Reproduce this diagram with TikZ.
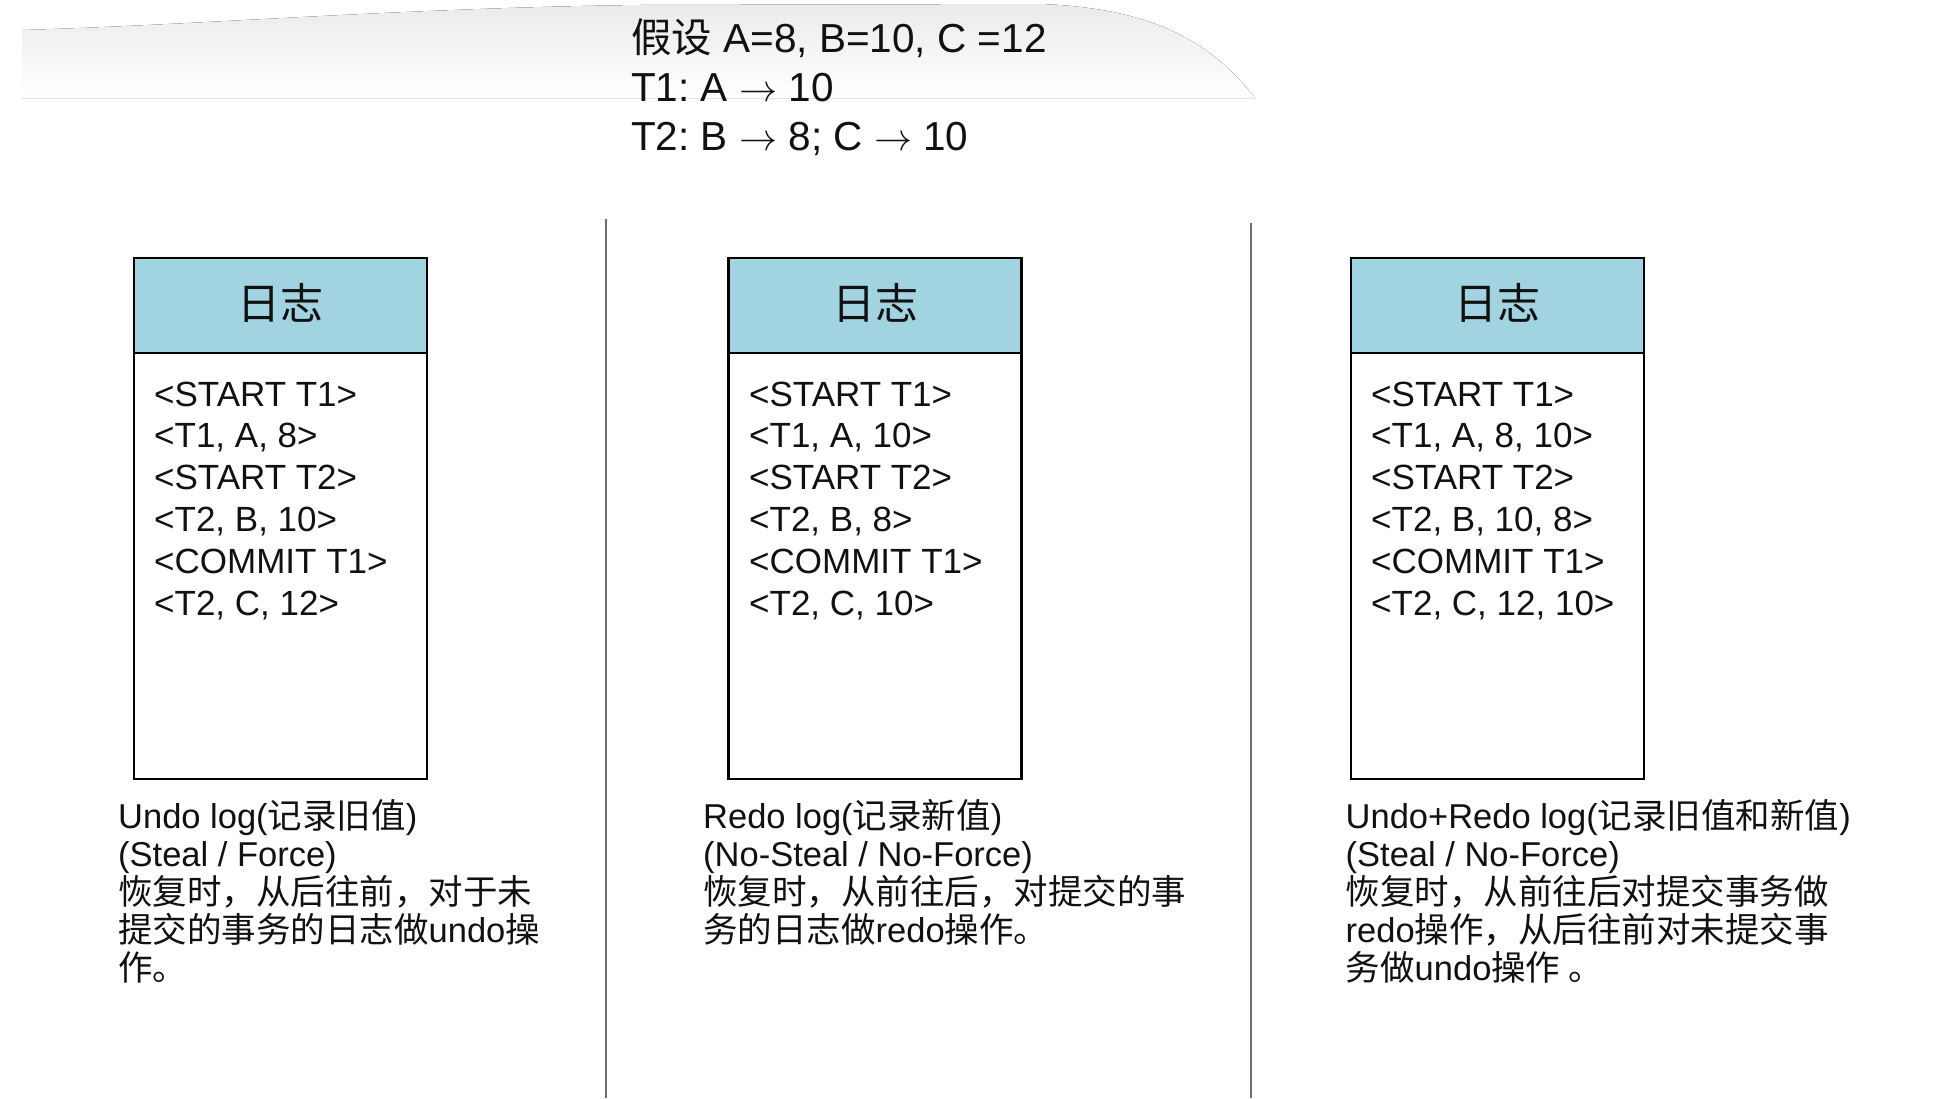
\documentclass[tikz,border=0pt]{standalone}
\usepackage{graphicx}
\usepackage{fontspec}
\setmainfont{Liberation Sans}
\newfontfamily\cjk{Noto Sans CJK SC}
\definecolor{hdr}{HTML}{A1D3E0}
\definecolor{vline}{HTML}{6E6E6E}
\definecolor{ink}{HTML}{111111}
\newcommand{\myarr}{{\fontsize{10}{12}\selectfont\scalebox{3.8}{$\rightarrow$}}}
\frenchspacing
\begin{document}
\begin{tikzpicture}[x=1pt,y=-1pt,
  boxline/.style={draw=black,line width=2.6pt},
  sepline/.style={draw=vline,line width=2pt},
  toptxt/.style={anchor=base west,inner sep=0pt,text=ink,font=\fontsize{40.5}{48}\selectfont},
  hdrtxt/.style={anchor=base,inner sep=0pt,text=ink,font=\fontsize{43}{50}\cjk},
  logtxt/.style={anchor=base west,inner sep=0pt,text=ink,font=\fontsize{35}{42}\selectfont},
  notetxt/.style={anchor=base west,inner sep=0pt,text=ink,font=\fontsize{34.5}{38}\selectfont}]
\useasboundingbox (0,0) rectangle (1953,1098);
\fill[white] (0,0) rectangle (1953,1098);
% faint shading at top
\fill[top color=black!8,bottom color=white] (22,98) -- (22,30) .. controls (200,25) and (400,8) .. (640,5) -- (1040,4) .. controls (1150,8) and (1210,40) .. (1255,98) -- cycle;
% top text
\node[toptxt] (t1) at (631,52) {{\cjk 假设} A=8, B=10, C =12};
\node[toptxt] (t2) at (631,101) {T1: A \myarr{} 10};
\node[toptxt] (t3) at (631,150) {T2: B \myarr{} 8; C \myarr{} 10};
% separators
\coordinate (s1a) at (605.5,219); \coordinate (s1b) at (605.5,1098);
\coordinate (s2a) at (1251,223); \coordinate (s2b) at (1251,1098);
\draw[sepline] (s1a) -- (s1b);
\draw[sepline] (s2a) -- (s2b);
% boxes
\foreach \xl/\n in {134/1,728.5/2,1351/3}{
  \fill[hdr] (\xl,258) rectangle ++(293,95);
  \draw[boxline] (\xl,258) rectangle ++(293,521);
  \draw[boxline] (\xl,353) -- ++(293,0);
  \node[hdrtxt] (h\n) at (\xl+146.5,319) {日志};
}
% log entries
\foreach \t [count=\i from 0] in {{<START T1>},{<T1, A, 8>},{<START T2>},{<T2, B, 10>},{<COMMIT T1>},{<T2, C, 12>}}
  \node[logtxt] (a\i) at (154,406+41.8*\i) {\t};
\foreach \t [count=\i from 0] in {{<START T1>},{<T1, A, 10>},{<START T2>},{<T2, B, 8>},{<COMMIT T1>},{<T2, C, 10>}}
  \node[logtxt] (b\i) at (749,406+41.8*\i) {\t};
\foreach \t [count=\i from 0] in {{<START T1>},{<T1, A, 8, 10>},{<START T2>},{<T2, B, 10, 8>},{<COMMIT T1>},{<T2, C, 12, 10>}}
  \node[logtxt] (c\i) at (1371,406+41.8*\i) {\t};
% notes
\foreach \t [count=\i from 0] in {{Undo log({\cjk 记录旧值})},{(Steal / Force)},{\cjk 恢复时，从后往前，对于未},{{\cjk 提交的事务的日志做}undo{\cjk 操}},{\cjk 作。}}
  \node[notetxt] (u\i) at (118,828.5+38*\i) {\t};
\foreach \t [count=\i from 0] in {{Redo log({\cjk 记录新值})},{(No-Steal / No-Force)},{\cjk 恢复时，从前往后，对提交的事},{{\cjk 务的日志做}redo{\cjk 操作。}}}
  \node[notetxt] (r\i) at (703,828.5+38*\i) {\t};
\foreach \t [count=\i from 0] in {{Undo+Redo log({\cjk 记录旧值和新值})},{(Steal / No-Force)},{\cjk 恢复时，从前往后对提交事务做},{redo{\cjk 操作，从后往前对未提交事}},{{\cjk 务做}undo{\cjk 操作 。}}}
  \node[notetxt] (m\i) at (1345.5,828.5+38*\i) {\t};
\end{tikzpicture}
\end{document}
